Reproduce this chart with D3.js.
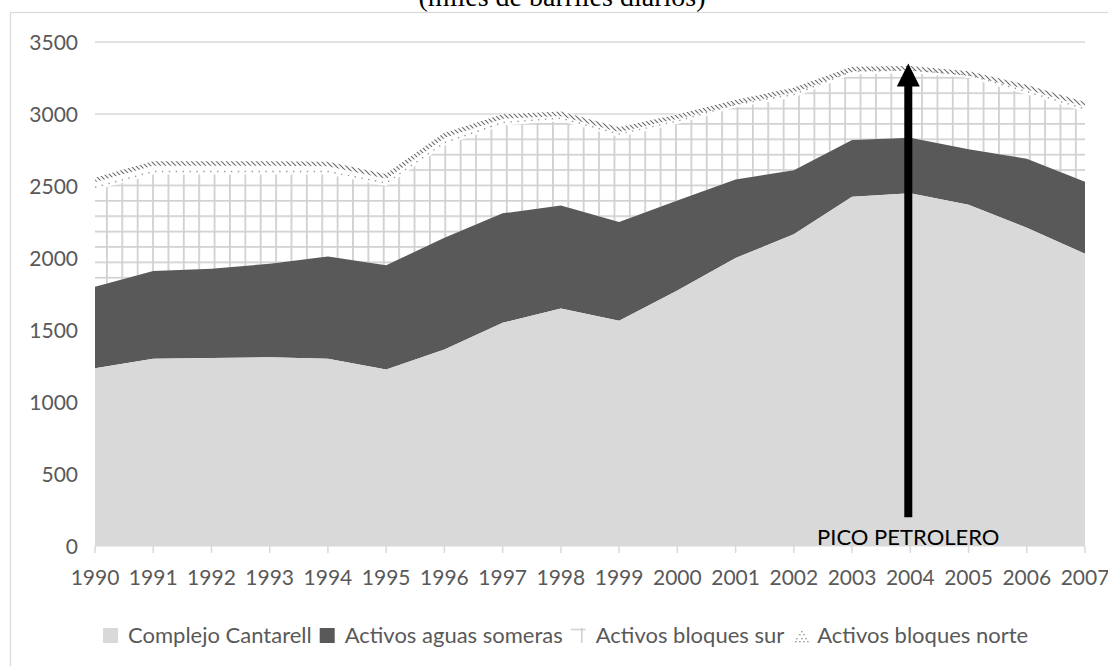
<!DOCTYPE html>
<html><head><meta charset="utf-8">
<script src="https://cdn.jsdelivr.net/npm/d3@7"></script>
<style>body{margin:0;background:#fff;overflow:hidden}</style>
</head><body><svg id="c" width="1108" height="666"></svg>
<script>
const years = [1990,1991,1992,1993,1994,1995,1996,1997,1998,1999,2000,2001,2002,2003,2004,2005,2006,2007];
const cantarell = [1235,1300,1305,1310,1300,1225,1365,1550,1650,1565,1775,2000,2165,2425,2450,2370,2210,2030];
const someras   = [565,610,620,650,710,725,775,760,715,685,625,545,445,395,385,385,480,500];
const sur       = [670,670,655,620,570,550,640,610,585,590,530,500,505,455,450,495,445,485];
const norte     = [90,95,95,95,90,85,90,80,70,70,70,55,70,55,50,50,70,70];
const yTicks = [0,500,1000,1500,2000,2500,3000,3500];
const seriesNames = ["Complejo Cantarell","Activos aguas someras","Activos bloques sur","Activos bloques norte"];
const titleText = "(miles de barriles diarios)";
const annotation = "PICO PETROLERO";
const peakYear = 2004;

const FONT = "Lato, 'Open Sans', sans-serif";
const FS = 22, AFS = 21;
const svg = d3.select("#c");
const x = d3.scaleLinear().domain([1990,2007]).range([95,1085]);
const y = d3.scaleLinear().domain([0,3500]).range([546,42]);

const defs = svg.append("defs");
const gp = defs.append("pattern").attr("id","grid").attr("patternUnits","userSpaceOnUse")
  .attr("x",13.7).attr("y",0).attr("width",15.38).attr("height",15.38);
gp.append("rect").attr("width",15.38).attr("height",15.38).attr("fill","#fff");
gp.append("path").attr("d","M0.9,0V15.38M0,0.9H15.38").attr("stroke","#d0d0d0").attr("stroke-width",1.8);
const hp = defs.append("pattern").attr("id","hatch").attr("patternUnits","userSpaceOnUse")
  .attr("width",5).attr("height",5);
hp.append("path").attr("d","M-1,-1L6,6M-1,4L1,6M4,-1L6,1").attr("stroke","#6a6a6a").attr("stroke-width",1.1);

// frame
svg.append("rect").attr("x",10.5).attr("y",12.5).attr("width",1200).attr("height",700)
  .attr("fill","none").attr("stroke","#d9d9d9").attr("stroke-width",1.2);

// title
svg.append("text").attr("x",562).attr("y",6).attr("text-anchor","middle")
  .attr("font-family","'Liberation Serif', 'Times New Roman', serif").attr("font-size",28)
  .attr("fill","#000").text(titleText);

// gridlines
svg.append("g").selectAll("line").data(yTicks.filter(d=>d>0)).join("line")
  .attr("x1",x(1990)).attr("x2",x(2007)).attr("y1",d=>y(d)).attr("y2",d=>y(d))
  .attr("stroke","#d9d9d9").attr("stroke-width",1.5);

const table = years.map((yr,i)=>({year:yr,c:cantarell[i],a:someras[i],s:sur[i],n:norte[i]}));
const stacked = d3.stack().keys(["c","a","s","n"])(table);
const area = d3.area().x(d=>x(d.data.year)).y0(d=>y(d[0])).y1(d=>y(d[1]));
const fills = ["#d9d9d9","#595959","url(#grid)","#ffffff"];

const ga = svg.append("g");
ga.selectAll("path").data(stacked.slice().reverse()).join("path")
  .attr("d",area).attr("fill",d=>fills[d.index]);

// norte texture
const topN = stacked[3];
ga.append("path").attr("d",d3.line().x(d=>x(d.data.year)).y(d=>y(d[1])+2.6)(topN))
  .attr("fill","none").attr("stroke","url(#hatch)").attr("stroke-width",4.5);
ga.append("path").attr("d",d3.line().x(d=>x(d.data.year)).y(d=>y(d[0])-3)(topN))
  .attr("fill","none").attr("stroke","#9a9a9a").attr("stroke-width",1.4).attr("stroke-dasharray","1.4,5.5");

// x axis line & ticks
svg.append("line").attr("x1",x(1990)).attr("x2",x(2007)).attr("y1",y(0)).attr("y2",y(0))
  .attr("stroke","#d9d9d9").attr("stroke-width",1.2);
svg.append("g").selectAll("line").data(years).join("line")
  .attr("x1",d=>x(d)).attr("x2",d=>x(d)).attr("y1",y(0)).attr("y2",y(0)+7)
  .attr("stroke","#d9d9d9").attr("stroke-width",1.5);
svg.append("g").selectAll("text").data(years).join("text")
  .attr("x",d=>x(d)).attr("y",585).attr("text-anchor","middle")
  .attr("font-family",FONT).attr("font-size",AFS).attr("fill","#595959").text(d=>d);

// y labels
svg.append("g").selectAll("text").data(yTicks).join("text")
  .attr("x",78).attr("y",d=>y(d)).attr("dy","0.36em").attr("text-anchor","end")
  .attr("font-family",FONT).attr("font-size",AFS).attr("fill","#595959").text(d=>d);

// arrow
const ax = x(peakYear)-2;
const tipY = y(3350), baseY = y(200), headY = tipY+23;
svg.append("path")
  .attr("d",`M${ax-4},${baseY}V${headY}H${ax-11.5}L${ax},${tipY}L${ax+11.5},${headY}H${ax+4}V${baseY}Z`)
  .attr("fill","#000");
svg.append("text").attr("x",x(peakYear)-2).attr("y",545).attr("text-anchor","middle")
  .attr("font-family",FONT).attr("font-size",FS).attr("fill","#000").text(annotation);

// legend
const lg = svg.append("g");
let lx = 103;
const ly = 628;
seriesNames.forEach((name,i)=>{
  const sx = lx;
  if(i===0||i===1){
    lg.append("rect").attr("x",sx).attr("y",ly).attr("width",15).attr("height",15).attr("fill",fills[i]);
  } else if(i===2){
    lg.append("path").attr("d",`M${sx+11},${ly}V${ly+15}M${sx},${ly+1.5}H${sx+15}`)
      .attr("stroke","#d0d0d0").attr("stroke-width",1.6).attr("fill","none");
  } else {
    const pts = [[9,3],[7,6],[11,6],[4,10],[9,10],[13,10],[3,13],[7,13],[11,13],[15,13]];
    pts.forEach(p=>lg.append("rect").attr("x",sx+p[0]).attr("y",ly+p[1]).attr("width",1.3).attr("height",1.3).attr("fill","#808080"));
  }
  const t = lg.append("text").attr("x",sx+25).attr("y",ly+15).attr("font-family",FONT)
    .attr("font-size",FS).attr("fill","#595959").text(name);
  lx = sx + 25 + t.node().getComputedTextLength() + 8;
});
</script></body></html>
